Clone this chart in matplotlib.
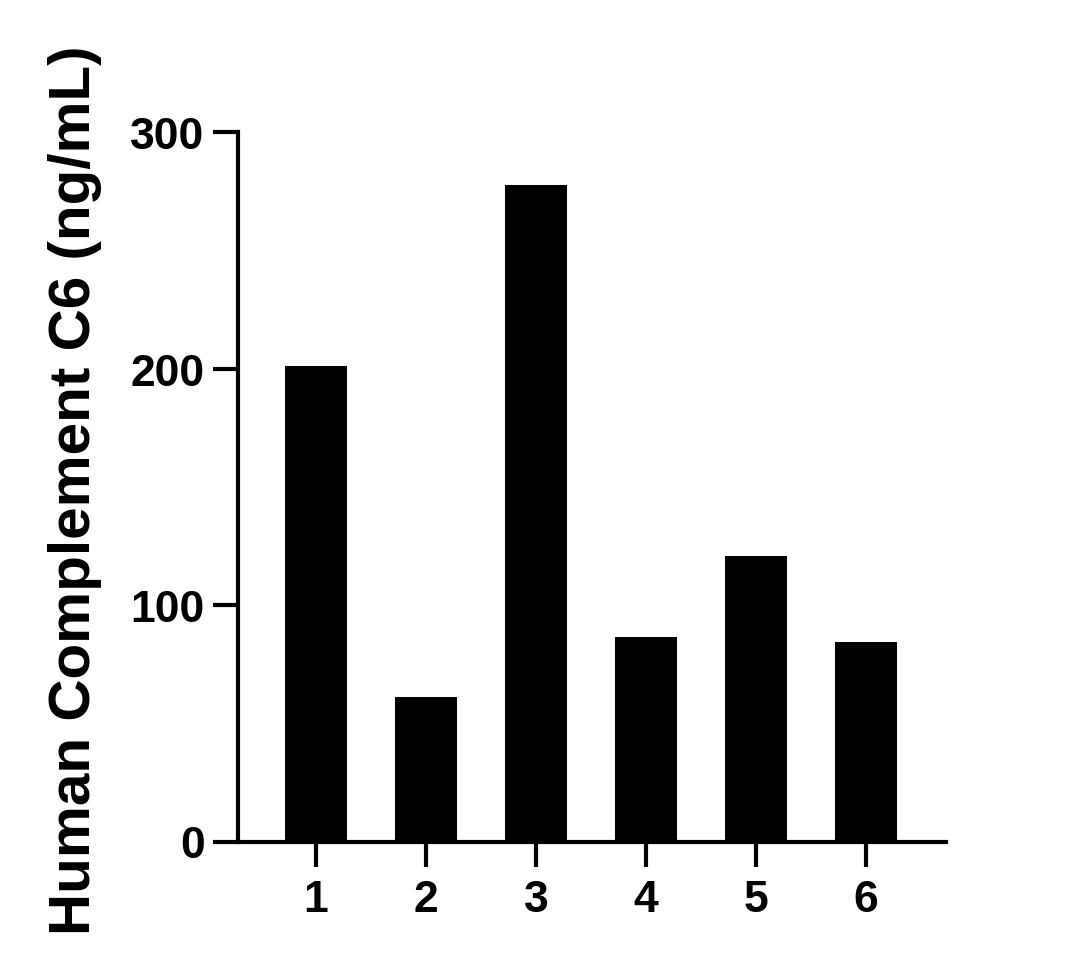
import matplotlib
matplotlib.use("Agg")
import matplotlib.pyplot as plt

categories = ["1", "2", "3", "4", "5", "6"]
values = [201.0, 61.3, 277.6, 86.6, 120.8, 84.5]
y_ticks = [0, 100, 200, 300]
y_label = "Human Complement C6 (ng/mL)"

plt.rcParams['font.family'] = ['Liberation Sans', 'DejaVu Sans']
plt.rcParams['font.weight'] = 'bold'

W, H = 1079, 979
fig = plt.figure(figsize=(W / 100, H / 100), dpi=100)
ax = fig.add_axes([238 / W, 1 - 842.5 / H, (946 - 238) / W, (842.5 - 133) / H])

pos = list(range(1, len(categories) + 1))
ax.bar(pos, values, width=0.5636, color='black', edgecolor='none')

ax.set_xlim(0.2909, 6.727)
ax.set_ylim(0, 300)
ax.set_xticks(pos)
ax.set_xticklabels(categories)
ax.set_yticks(y_ticks)
ax.set_yticklabels([str(t) for t in y_ticks])

for s in ['top', 'right']:
    ax.spines[s].set_visible(False)
for s in ['left', 'bottom']:
    ax.spines[s].set_linewidth(3.0)
    ax.spines[s].set_color('black')

ax.tick_params(axis='both', which='major', length=18, width=3.0, color='black',
               labelsize=32)
ax.tick_params(axis='y', pad=6)
ax.tick_params(axis='x', pad=9)
for lab in ax.get_xticklabels() + ax.get_yticklabels():
    lab.set_fontweight('bold')

fig.text(75 / W, 1 - 490 / H, y_label, rotation=90, ha='center', va='center',
         fontsize=42, fontweight='bold')

fig.savefig("out.png", dpi=100)
